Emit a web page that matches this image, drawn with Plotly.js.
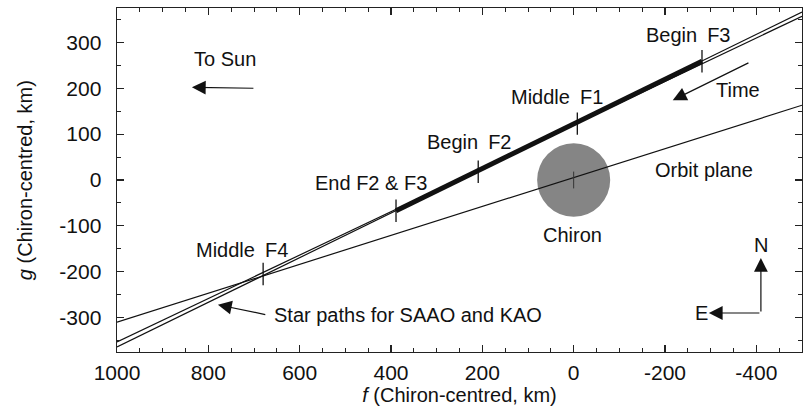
<!DOCTYPE html>
<html>
<head>
<meta charset="utf-8">
<script src="https://cdn.plot.ly/plotly-3.0.1.min.js"></script>
<style>html,body{margin:0;padding:0;background:#fff;}#chart{width:810px;height:416px;}</style>
</head>
<body>
<div id="chart"></div>
<script>
// ---- data (km, Chiron-centred) ----
var pathA_f = [1000, -500];
var pathA_g = [-353, 357];
var pathB_f = [1000, -500];
var pathB_g = [-364, 366];
var orbit_f = [1000, -500];
var orbit_g = [-310, 163];
var obs_f = [389, -281];
var obs_g = [-67, 259];
var event_f = [680, 389, 209, -8, -281];
var event_g = [-205, -67, 18, 123, 259];
var event_labels = ["Middle\u2002F4", "End F2 & F3", "Begin\u2002F2", "Middle\u2002F1", "Begin\u2002F3"];
var chiron_f = [0];
var chiron_g = [0];
var chiron_r = 80;
var xTickVals = [1000, 800, 600, 400, 200, 0, -200, -400];
var xTickText = ["1000", "800", "600", "400", "200", "0", "-200", "-400"];
var yTickVals = [300, 200, 100, 0, -100, -200, -300];
var yTickText = ["300", "200", "100", "0", "-100", "-200", "-300"];

var FONT = "Liberation Sans, Arial, Helvetica, sans-serif";
var INK = "#111";

var lineStyle = function (w) { return {color: INK, width: w}; };

var traces = [
  {x: orbit_f, y: orbit_g, mode: "lines", line: lineStyle(1.2), hoverinfo: "skip"},
  {x: pathA_f, y: pathA_g, mode: "lines", line: lineStyle(1.2), hoverinfo: "skip"},
  {x: pathB_f, y: pathB_g, mode: "lines", line: lineStyle(1.2), hoverinfo: "skip"},
  {x: obs_f, y: obs_g, mode: "lines", line: lineStyle(5), hoverinfo: "skip"},
  {x: event_f, y: event_g, mode: "markers", text: event_labels, hoverinfo: "text",
   marker: {symbol: "line-ns", size: 16, line: {color: INK, width: 1.3}}},
  {x: chiron_f, y: chiron_g, mode: "markers", hoverinfo: "skip",
   marker: {symbol: "line-ns", size: 12, line: {color: "#333", width: 1}}}
];

function label(text, f, g) {
  return {x: f, y: g, xref: "x", yref: "y", text: text, showarrow: false,
          font: {family: FONT, size: 20, color: INK}, xanchor: "center", yanchor: "middle"};
}
function arrow(tipF, tipG, tailF, tailG) {
  return {x: tipF, y: tipG, ax: tailF, ay: tailG, xref: "x", yref: "y", axref: "x", ayref: "y",
          text: "", showarrow: true, arrowhead: 2, arrowsize: 2.3, arrowwidth: 1.2, arrowcolor: INK};
}

var annotations = [
  label("To Sun", 763, 264),
  label(event_labels[4], -252, 316),
  label(event_labels[3], 37, 181),
  label(event_labels[2], 229, 83),
  label(event_labels[1], 444, -6),
  label(event_labels[0], 726, -153),
  label("Orbit plane", -285, 22),
  label("Chiron", 2, -120),
  label("Time", -360, 196),
  label("Star paths for SAAO and KAO", 363, -294),
  label("N", -410, -142),
  label("E", -281, -290),
  arrow(836, 202, 698, 200),
  arrow(-217, 174, -386, 257),
  arrow(779, -272, 672, -294),
  arrow(-410, -170, -410, -290),
  arrow(-296, -290, -410, -290),
  {xref: "paper", yref: "paper", x: -0.134, y: 0.5, xanchor: "center", yanchor: "middle",
   textangle: -90, showarrow: false, text: "<i>g</i> (Chiron-centred, km)",
   font: {family: FONT, size: 20, color: INK}}
];

var axisCommon = {
  showgrid: false, zeroline: false, showline: true, mirror: "ticks",
  linecolor: "#222", linewidth: 1.4,
  ticks: "inside", ticklen: 7, tickwidth: 1.2, tickcolor: "#222",
  tickmode: "array",
  tickfont: {family: FONT, size: 21, color: INK},
  minor: {dtick: 50, ticks: "inside", ticklen: 4, tickwidth: 1, tickcolor: "#222"}
};

var layout = {
  width: 810, height: 416,
  margin: {l: 117, r: 8, t: 8, b: 64},
  paper_bgcolor: "#fff", plot_bgcolor: "#fff",
  showlegend: false,
  xaxis: Object.assign({}, axisCommon, {
    range: [1000, -500], autorange: false,
    tickvals: xTickVals, ticktext: xTickText,
    ticklabelstandoff: 1,
    title: {text: "<i>f</i> (Chiron-centred, km)", font: {family: FONT, size: 20, color: INK}, standoff: 2}
  }),
  yaxis: Object.assign({}, axisCommon, {
    range: [-375, 375], autorange: false,
    tickvals: yTickVals, ticktext: yTickText,
    ticklabelstandoff: 10
  }),
  shapes: [{
    type: "circle", xref: "x", yref: "y", layer: "below",
    x0: chiron_f[0] - chiron_r, x1: chiron_f[0] + chiron_r,
    y0: chiron_g[0] - chiron_r, y1: chiron_g[0] + chiron_r,
    fillcolor: "#858585", line: {width: 0}
  }],
  annotations: annotations
};

Plotly.newPlot("chart", traces, layout, {staticPlot: true, displayModeBar: false});
</script>
</body>
</html>
